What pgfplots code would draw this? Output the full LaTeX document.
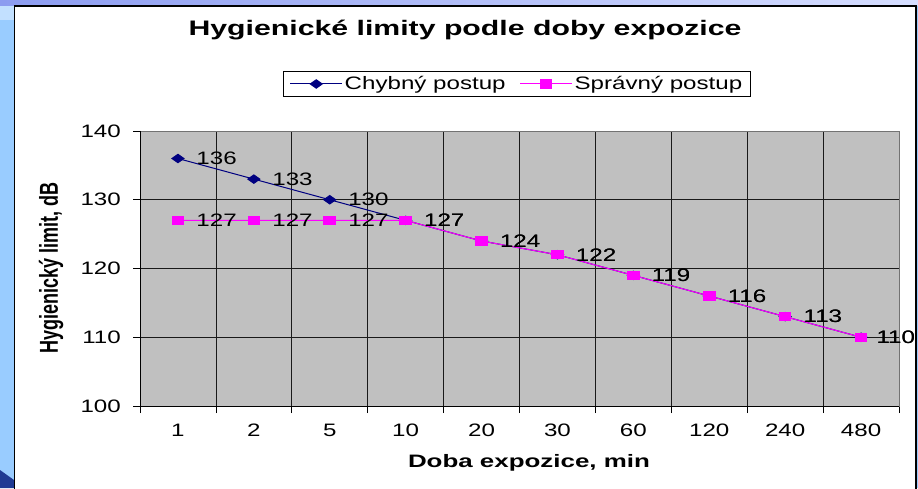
\documentclass[border=0pt]{standalone}
\usepackage{fontspec}
\setmainfont{Liberation Sans}[FakeStretch=1.34]
\newfontfamily\boldstretch{Liberation Sans}[FakeStretch=1.44]
\newfontfamily\plainfont{Liberation Sans}
\usepackage{graphicx}
\usepackage{pgfplots}
\usepackage{pgfplotstable}
\pgfplotsset{compat=1.18}
\pgfplotsset{/pgf/number format/assume math mode=true}
\definecolor{navy}{RGB}{0,0,128}
\definecolor{mag}{RGB}{255,0,255}
\definecolor{plotgray}{RGB}{192,192,192}
\definecolor{slideblue}{RGB}{153,204,255}
\definecolor{darkwedge}{RGB}{31,58,147}
\definecolor{bandL}{RGB}{140,156,240}
\definecolor{bandR}{RGB}{214,222,255}
\pgfplotstableread{
x y
1 136
2 133
3 130
4 127
5 124
6 122
7 119
8 116
9 113
10 110
}\chybny
\pgfplotstableread{
x y
1 127
2 127
3 127
4 127
5 124
6 122
7 119
8 116
9 113
10 110
}\spravny
\begin{document}
\begin{tikzpicture}[x=1pt,y=1pt]
\fill[slideblue] (0,0) rectangle (918,488);
\fill[slideblue!60!white] (0,468) rectangle (14,482);
\shade[left color=bandL, right color=bandR] (0,482) rectangle (918,488);
\fill[darkwedge] (0,0) -- (0,18) -- (14,8) -- (14,0) -- cycle;
\filldraw[fill=white, draw=black, line width=1.5pt] (14.5,-3) rectangle (916,482);
\begin{axis}[
  scale only axis, width=759pt, height=275pt,
  at={(140pt,82pt)}, anchor=south west,
  xmin=0.5, xmax=10.5, ymin=100, ymax=140,
  axis background/.style={fill=plotgray},
  xtick={0.5,1.5,...,10.5},
  xticklabels={,,,,,,,,,,,},
  extra x ticks={1,2,...,10},
  extra x tick labels={1,2,5,10,20,30,60,120,240,480},
  extra x tick style={major tick length=0pt, grid=none,
     xticklabel style={anchor=north, inner sep=0pt, yshift=-18pt}},
  ytick={100,110,...,140},
  yticklabel style={anchor=east, inner sep=0pt, xshift=-12pt},
  tick align=outside, xtick pos=bottom, ytick pos=left,
  major tick length=7pt,
  tick style={black, line width=0.8pt},
  grid=major,
  grid style={black!90, line width=0.8pt},
  axis line style={draw=black!55, line width=0.8pt},
  tick label style={font=\fontsize{18}{20}\selectfont},
  legend columns=2,
  legend style={at={(axis description cs:0.4967,1.171)}, anchor=center,
    draw=black, line width=0.8pt, fill=white,
    inner xsep=6pt, inner ysep=3pt,
    font=\fontsize{18}{20}\selectfont,
    /tikz/every even column/.append style={column sep=12pt}},
  legend image code/.code={\draw[mark repeat=2,mark phase=2,#1] plot coordinates {(0pt,0pt) (26pt,0pt) (52pt,0pt)};},
  nodes near coords,
  every node near coord/.append style={font=\fontsize{18}{20}\selectfont, black, anchor=west, inner sep=0pt, xshift=18pt},
  coordinate style/.condition={\pgfkeysvalueof{/data point/x}>9.5}{xshift=-3pt},
]
\addplot[color=navy, line width=1pt, mark=diamond*, mark size=4.2pt, mark options={xscale=1.9, solid, fill=navy}] table[x=x,y=y] {\chybny};
\addlegendentry{Chybný postup}
\addplot[color=mag, line width=1pt, mark=square*, mark size=4.15pt, mark options={xscale=1.4, solid, fill=mag}] table[x=x,y=y] {\spravny};
\addlegendentry{Správný postup}
\draw[black, line width=1pt] (rel axis cs:0,1) -- (rel axis cs:0,0) -- (rel axis cs:1,0);
\end{axis}
\node[anchor=base, inner sep=0pt] at (465,452.5) {\boldstretch\bfseries\fontsize{21}{24}\selectfont Hygienické limity podle doby expozice};
\node[anchor=base, inner sep=0pt] at (529,20.7) {\boldstretch\bfseries\fontsize{18}{20}\selectfont Doba expozice, min};
\node[rotate=90, inner sep=0pt] at (51,220) {\scalebox{1}[1.44]{\plainfont\bfseries\fontsize{18}{20}\selectfont Hygienický limit, dB}};
\pgfresetboundingbox
\path[use as bounding box] (0,0) rectangle (918,488);
\end{tikzpicture}
\end{document}
